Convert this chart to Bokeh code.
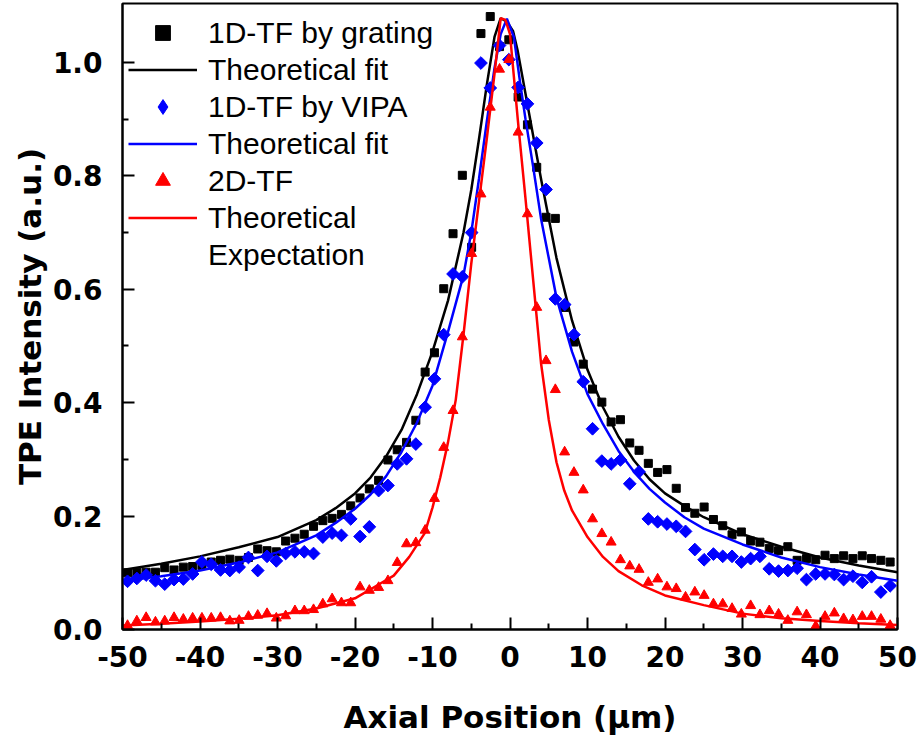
import math
from bokeh.plotting import figure
from bokeh.models import Range1d, FixedTicker, NumeralTickFormatter, Legend, LegendItem
from bokeh.embed import file_html
from bokeh.resources import INLINE

# ---- data ----
pos = [-49.35, -48.15, -46.95, -45.75, -44.55, -43.35, -42.15, -40.95, -39.75, -38.55,
       -37.35, -36.15, -34.95, -33.75, -32.55, -31.35, -30.15, -28.95, -27.75, -26.55,
       -25.35, -24.15, -22.95, -21.75, -20.55, -19.35, -18.15, -16.95, -15.75, -14.55,
       -13.35, -12.15, -10.95, -9.75, -8.55, -7.35, -6.15, -4.95, -3.75, -2.55,
       -1.35, -0.15, 1.05, 2.25, 3.45, 4.65, 5.85, 7.05, 8.25, 9.45,
       10.65, 11.85, 13.05, 14.25, 15.45, 16.65, 17.85, 19.05, 20.25, 21.45,
       22.65, 23.85, 25.05, 26.25, 27.45, 28.65, 29.85, 31.05, 32.25, 33.45,
       34.65, 35.85, 37.05, 38.25, 39.45, 40.65, 41.85, 43.05, 44.25, 45.45,
       46.65, 47.85, 49.05]

grating = [0.100, 0.101, 0.101, 0.101, 0.109, 0.105, 0.110, 0.111, 0.113, 0.119,
           0.122, 0.124, 0.122, 0.127, 0.142, 0.139, 0.137, 0.156, 0.161, 0.168,
           0.182, 0.192, 0.196, 0.203, 0.218, 0.232, 0.248, 0.263, 0.299, 0.317,
           0.330, 0.369, 0.454, 0.488, 0.601, 0.698, 0.801, 0.674, 1.051, 1.081,
           1.028, 1.040, 0.939, 0.890, 0.815, 0.727, 0.725, 0.568, 0.507, 0.468,
           0.424, 0.401, 0.366, 0.370, 0.329, 0.316, 0.293, 0.277, 0.282, 0.249,
           0.215, 0.205, 0.216, 0.194, 0.183, 0.167, 0.172, 0.156, 0.154, 0.143,
           0.139, 0.146, 0.122, 0.125, 0.123, 0.131, 0.125, 0.130, 0.125, 0.130,
           0.125, 0.122, 0.119]

vipa = [0.085, 0.090, 0.096, 0.086, 0.080, 0.088, 0.089, 0.098, 0.119, 0.115,
        0.105, 0.104, 0.110, 0.127, 0.104, 0.129, 0.121, 0.134, 0.137, 0.137,
        0.134, 0.163, 0.170, 0.166, 0.195, 0.164, 0.181, 0.245, 0.254, 0.292,
        0.301, 0.327, 0.392, 0.442, 0.520, 0.627, 0.622, 0.700, 0.999, 0.955,
        1.030, 1.005, 0.956, 0.927, 0.858, 0.776, 0.583, 0.573, 0.520, 0.437,
        0.354, 0.297, 0.292, 0.299, 0.257, 0.278, 0.195, 0.190, 0.186, 0.182,
        0.173, 0.141, 0.123, 0.133, 0.129, 0.129, 0.119, 0.125, 0.129, 0.107,
        0.103, 0.104, 0.108, 0.088, 0.098, 0.098, 0.097, 0.088, 0.094, 0.083,
        0.093, 0.066, 0.077]

tf2d = [0.007, 0.015, 0.021, 0.013, 0.015, 0.021, 0.018, 0.020, 0.020, 0.020,
        0.021, 0.015, 0.016, 0.023, 0.025, 0.028, 0.020, 0.024, 0.033, 0.033,
        0.035, 0.045, 0.054, 0.047, 0.047, 0.075, 0.069, 0.074, 0.086, 0.118,
        0.151, 0.153, 0.175, 0.231, 0.321, 0.386, 0.516, 0.663, 0.768, 0.921,
        0.988, 1.005, 0.877, 0.733, 0.568, 0.474, 0.423, 0.313, 0.277, 0.246,
        0.195, 0.169, 0.154, 0.123, 0.112, 0.106, 0.083, 0.089, 0.075, 0.072,
        0.057, 0.066, 0.060, 0.045, 0.045, 0.037, 0.027, 0.042, 0.026, 0.033,
        0.027, 0.016, 0.031, 0.026, 0.006, 0.023, 0.029, 0.019, 0.017, 0.023,
        0.023, 0.018, 0.007]

fit_grating_x = [-50, -45, -40, -35, -30, -25, -22.5, -20, -18, -16, -14, -12, -10, -8, -6, -5, -4, -3, -2,
                 -1.2, -0.4, 0.4, 1, 2, 3, 4, 5, 6, 8, 10, 12, 14, 16, 18, 20, 22.5, 25, 30, 35, 40, 45, 50]
fit_grating_y = [0.105, 0.116, 0.129, 0.145, 0.163, 0.193, 0.214, 0.240, 0.268, 0.305, 0.352, 0.415,
                 0.490, 0.580, 0.700, 0.775, 0.865, 0.960, 1.045, 1.078, 1.072, 1.055, 1.020, 0.945,
                 0.870, 0.795, 0.725, 0.655, 0.545, 0.458, 0.392, 0.340, 0.298, 0.265, 0.240, 0.218,
                 0.198, 0.168, 0.146, 0.127, 0.113, 0.101]

fit_vipa_x = [-50, -45, -40, -35, -30, -25, -22.5, -20, -18, -16, -14, -12, -10, -8, -6, -5, -4, -3, -2,
              -1.2, -0.4, 0.5, 1.3, 2, 3, 4, 5, 6, 8, 10, 12, 14, 16, 18, 20, 22.5, 25, 30, 35, 40, 45, 50]
fit_vipa_y = [0.086, 0.094, 0.104, 0.118, 0.136, 0.166, 0.188, 0.213, 0.238, 0.270, 0.313, 0.365,
              0.430, 0.525, 0.625, 0.700, 0.795, 0.895, 0.990, 1.050, 1.077, 1.045, 0.965, 0.900,
              0.815, 0.725, 0.655, 0.585, 0.490, 0.415, 0.362, 0.315, 0.278, 0.248, 0.224, 0.198,
              0.178, 0.150, 0.127, 0.110, 0.097, 0.086]

fit_2d_x = [-50, -45, -40, -35, -30, -25, -20, -17, -15, -13, -11, -10, -9, -8, -7, -6, -5, -4, -3,
            -2, -1.2, -0.6, 0, 1, 2, 3, 4, 5, 6, 7, 8, 10, 12, 14, 17, 20, 25, 30, 35, 40, 45, 50]
fit_2d_y = [0.007, 0.010, 0.014, 0.019, 0.025, 0.037, 0.055, 0.079, 0.095, 0.128, 0.170, 0.215,
            0.268, 0.330, 0.405, 0.520, 0.645, 0.755, 0.865, 0.980, 1.078, 1.075, 1.050, 0.900,
            0.760, 0.615, 0.470, 0.370, 0.295, 0.245, 0.210, 0.163, 0.128, 0.103, 0.078, 0.060,
            0.043, 0.028, 0.020, 0.015, 0.011, 0.008]

x_ticks = [-50, -40, -30, -20, -10, 0, 10, 20, 30, 40, 50]
x_minor = [-45, -35, -25, -15, -5, 5, 15, 25, 35, 45]
y_ticks = [0.0, 0.2, 0.4, 0.6, 0.8, 1.0]
y_minor = [0.1, 0.3, 0.5, 0.7, 0.9]

labels = ["1D-TF by grating", "Theoretical fit", "1D-TF by VIPA", "Theoretical fit",
          "2D-TF", "Theoretical", "Expectation"]

# ---- figure ----
p = figure(width=923, height=747, x_range=Range1d(-50, 50), y_range=Range1d(0, 1.104),
           output_backend="svg", toolbar_location=None,
           min_border_left=122, min_border_right=26, min_border_top=3, min_border_bottom=118)
p.background_fill_color = "white"
p.border_fill_color = "white"
p.outline_line_color = "black"
p.outline_line_width = 2
p.xgrid.visible = False
p.ygrid.visible = False

tick_font = "DejaVu Sans"
for ax in (p.xaxis[0], p.yaxis[0]):
    ax.axis_line_width = 2
    ax.axis_line_color = "black"
    ax.major_tick_in = 12
    ax.major_tick_out = 0
    ax.minor_tick_in = 6
    ax.minor_tick_out = 0
    ax.major_tick_line_width = 2
    ax.minor_tick_line_width = 2
    ax.major_label_text_font = tick_font
    ax.major_label_text_font_style = "bold"
    ax.major_label_text_font_size = "28px"
    ax.major_label_text_color = "black"
    ax.axis_label_text_font = tick_font
    ax.axis_label_text_font_style = "bold"
    ax.axis_label_text_font_size = "31px"
    ax.axis_label_text_color = "black"

p.xaxis.ticker = FixedTicker(ticks=x_ticks, minor_ticks=x_minor)
p.yaxis.ticker = FixedTicker(ticks=y_ticks, minor_ticks=y_minor)
p.xaxis.major_label_overrides = {t: str(t) for t in x_ticks}
p.yaxis.formatter = NumeralTickFormatter(format="0.0")
p.xaxis.axis_label = "Axial Position (μm)"
p.yaxis.axis_label = "TPE Intensity (a.u.)"
p.xaxis.major_label_standoff = 16
p.yaxis.major_label_standoff = 20
p.xaxis.axis_label_standoff = 29
p.yaxis.axis_label_standoff = 2

# ---- glyphs ----
r_g = p.scatter(pos, grating, marker="square", size=8, color="black")
l_g = p.line(fit_grating_x, fit_grating_y, line_color="black", line_width=2.5)
r_v = p.scatter(pos, vipa, marker="square", angle=math.pi / 4, size=9, color="blue")
l_v = p.line(fit_vipa_x, fit_vipa_y, line_color="blue", line_width=2.5)
r_t = p.scatter(pos, tf2d, marker="triangle", size=10, color="red")
l_t = p.line(fit_2d_x, fit_2d_y, line_color="red", line_width=2.5)
# legend-only stand-ins (a single undrawable NaN point each)
nan = float("nan")
key_v = p.scatter(x=[nan], y=[nan], marker="diamond", size=14, color="blue")
blank = p.scatter(x=[nan], y=[nan], marker="square", size=1, fill_alpha=0, line_alpha=0)

legend = Legend(items=[
    LegendItem(label=labels[0], renderers=[r_g]),
    LegendItem(label=labels[1], renderers=[l_g]),
    LegendItem(label=labels[2], renderers=[key_v]),
    LegendItem(label=labels[3], renderers=[l_v]),
    LegendItem(label=labels[4], renderers=[r_t]),
    LegendItem(label=labels[5], renderers=[l_t]),
    LegendItem(label=labels[6], renderers=[blank]),
], location=(6, 356))
legend.padding = 0
legend.margin = 0
legend.spacing = 0
legend.border_line_alpha = 0
legend.background_fill_alpha = 0
legend.glyph_width = 69
legend.glyph_height = 37
legend.label_height = 37
legend.label_standoff = 11
legend.label_text_font = "Liberation Sans"
legend.label_text_font_size = "30px"
legend.label_text_color = "black"
legend.label_text_baseline = "middle"
p.add_layout(legend, "center")

open("out.html", "w").write(file_html(p, INLINE))
